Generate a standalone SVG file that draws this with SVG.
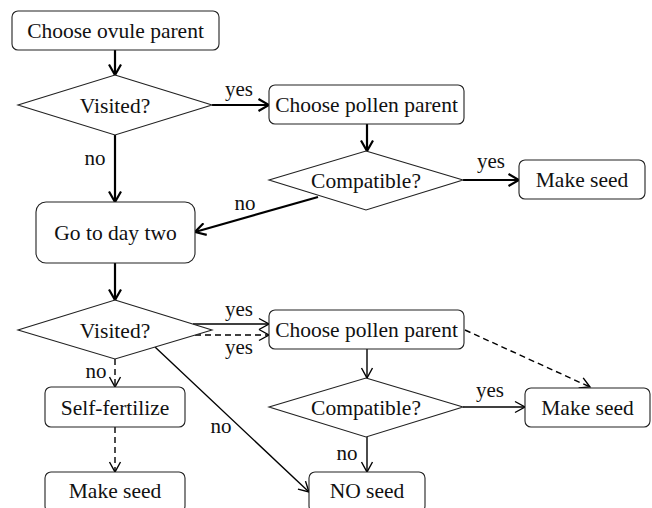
<svg xmlns="http://www.w3.org/2000/svg" width="652" height="508" viewBox="0 0 652 508" font-family="'Liberation Serif', 'DejaVu Serif', 'Times New Roman', serif">
<style>
  .box { fill: #fff; stroke: #222; stroke-width: 1.1; }
  .t { font-family: 'Liberation Serif', 'DejaVu Serif', 'Times New Roman', serif; font-size: 21.5px; fill: #111; text-anchor: middle; }
  .lbl { font-family: 'Liberation Serif', 'DejaVu Serif', 'Times New Roman', serif; font-size: 21px; fill: #111; text-anchor: middle; }
  .thick { stroke: #000; stroke-width: 2.2; fill: none; marker-end: url(#ah); }
  .thin { stroke: #000; stroke-width: 1.4; fill: none; marker-end: url(#ahs); }
  .dash { stroke: #000; stroke-width: 1.4; fill: none; stroke-dasharray: 6 4; marker-end: url(#ahs); }
</style>
<defs>
  <marker id="ah" markerUnits="userSpaceOnUse" markerWidth="14" markerHeight="14" viewBox="0 0 14 14" refX="12" refY="7" orient="auto">
    <path d="M1.5,1 L12,7 L1.5,13" fill="none" stroke="#000" stroke-width="2.2"/>
  </marker>
  <marker id="ahs" markerUnits="userSpaceOnUse" markerWidth="14" markerHeight="14" viewBox="0 0 14 14" refX="12" refY="7" orient="auto">
    <path d="M2,1.5 L12,7 L2,12.5" fill="none" stroke="#000" stroke-width="1.4"/>
  </marker>
</defs>

<g id="connectors">
  <line class="thick" x1="115" y1="50" x2="115" y2="75"/>
  <line class="thick" x1="212" y1="105" x2="269" y2="105"/>
  <line class="thick" x1="367" y1="124" x2="367" y2="151"/>
  <line class="thick" x1="463" y1="180" x2="519" y2="180"/>
  <line class="thick" x1="318" y1="197" x2="195" y2="232"/>
  <line class="thick" x1="115" y1="135" x2="115" y2="202"/>
  <line class="thick" x1="115" y1="263" x2="115" y2="300"/>
  <line class="thin" x1="193" y1="324" x2="269" y2="324"/>
  <line class="dash" x1="195" y1="335" x2="269" y2="335"/>
  <line class="dash" x1="465" y1="330" x2="590" y2="387"/>
  <line class="thin" x1="367" y1="349" x2="367" y2="378"/>
  <line class="thin" x1="463" y1="407" x2="525" y2="407"/>
  <line class="thin" x1="367" y1="437" x2="367" y2="472"/>
  <line class="dash" x1="115" y1="359" x2="115" y2="387"/>
  <line class="dash" x1="115" y1="427" x2="115" y2="472"/>
  <line class="thin" x1="155" y1="347" x2="309" y2="492"/>
  <text class="lbl" x="239" y="96">yes</text>
  <text class="lbl" x="95" y="165">no</text>
  <text class="lbl" x="245" y="210">no</text>
  <text class="lbl" x="491" y="168">yes</text>
  <text class="lbl" x="239" y="316">yes</text>
  <text class="lbl" x="239" y="354">yes</text>
  <text class="lbl" x="96" y="378">no</text>
  <text class="lbl" x="221" y="433">no</text>
  <text class="lbl" x="490" y="397">yes</text>
  <text class="lbl" x="347" y="460">no</text>
</g>

<g id="choose-ovule">
  <rect class="box" x="12" y="11" width="207" height="39" rx="6"/>
  <text class="t" x="115.5" y="38">Choose ovule parent</text>
</g>
<g id="visited1">
  <polygon class="box" points="115,75 212,105 115,135 18,105"/>
  <text class="t" x="115" y="113">Visited?</text>
</g>
<g id="choose-pollen1">
  <rect class="box" x="269" y="85" width="195" height="39" rx="6"/>
  <text class="t" x="366.5" y="112">Choose pollen parent</text>
</g>
<g id="compatible1">
  <polygon class="box" points="366,151 463,180 366,210 269,180"/>
  <text class="t" x="366" y="188">Compatible?</text>
</g>
<g id="make-seed1">
  <rect class="box" x="519" y="160" width="126" height="39" rx="6"/>
  <text class="t" x="582" y="187">Make seed</text>
</g>
<g id="day-two">
  <rect class="box" x="36" y="202" width="159" height="61" rx="10"/>
  <text class="t" x="115.5" y="240">Go to day two</text>
</g>
<g id="visited2">
  <polygon class="box" points="115,300 212,330 115,359 18,330"/>
  <text class="t" x="115" y="338">Visited?</text>
</g>
<g id="choose-pollen2">
  <rect class="box" x="269" y="310" width="195" height="39" rx="6"/>
  <text class="t" x="366.5" y="337">Choose pollen parent</text>
</g>
<g id="compatible2">
  <polygon class="box" points="366,378 463,407 366,437 269,407"/>
  <text class="t" x="366" y="415">Compatible?</text>
</g>
<g id="make-seed2">
  <rect class="box" x="525" y="388" width="125" height="39" rx="6"/>
  <text class="t" x="587.5" y="415">Make seed</text>
</g>
<g id="self-fertilize">
  <rect class="box" x="45" y="387" width="140" height="40" rx="6"/>
  <text class="t" x="115" y="415">Self-fertilize</text>
</g>
<g id="make-seed3">
  <rect class="box" x="45" y="472" width="140" height="40" rx="6"/>
  <text class="t" x="115" y="498">Make seed</text>
</g>
<g id="no-seed">
  <rect class="box" x="309" y="472" width="116" height="40" rx="6"/>
  <text class="t" x="367" y="498">NO seed</text>
</g>
</svg>
